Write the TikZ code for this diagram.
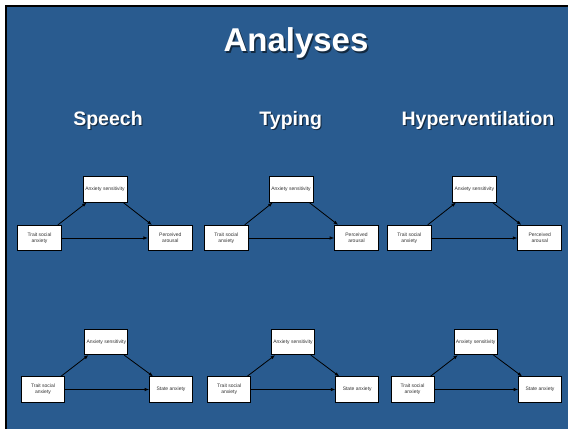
\documentclass[tikz,border=0pt]{standalone}
\usepackage{fontspec}
\setmainfont{Liberation Sans}
\usetikzlibrary{calc,arrows.meta}
\definecolor{slideblue}{RGB}{41,91,143}
\begin{document}
\begin{tikzpicture}[x=1pt,y=-1pt,
  box/.style={draw=black,line width=0.7pt,fill=white,minimum width=44pt,
    minimum height=25.5pt,inner sep=0pt,align=center,
    font=\fontsize{5}{6.3}\selectfont,text=black!80},
  smallbox/.style={box,minimum width=43pt},
  link/.style={-{Latex[length=4.5pt,width=3.5pt]},line width=0.8pt},
  heading/.style={text=white,font=\bfseries\fontsize{19.5}{22}\selectfont,anchor=base},
  titletext/.style={text=white,font=\bfseries\fontsize{33}{36}\selectfont,anchor=base},
  shade/.style={text=black,opacity=0.55}
]
\useasboundingbox (0,0) rectangle (568,429);
% slide background with its dark edge on the top and left
\fill[white] (0,0) rectangle (568,429);
\fill[slideblue] (7,7) rectangle (568,429);
\fill[black] (5,5) rectangle (568,7);
\fill[black] (5,5) rectangle (7,429);

% title and column headings, each with a soft drop shadow
\node[titletext,shade] (titleshadow) at (297.5,53) {Analyses};
\node[titletext] (title) at (296,51.5) {Analyses};
\foreach \n/\x/\t in {s/108/Speech, t/290.7/Typing, h/478/Hyperventilation}{
  \node[heading,shade] (hs\n) at (\x+1.2,126.2) {\t};
  \node[heading] (h\n) at (\x,125) {\t};
}

% upper row: perceived arousal models
\foreach \n/\xa/\xt/\xp in {s/105/39.5/170.3, t/291/226.3/356.5, h/474.3/409.3/539.7}{
  \node[box] (a1\n) at (\xa,189.5) {Anxiety sensitivity};
  \node[box] (t1\n) at (\xt,238) {Trait social\\anxiety};
  \node[box] (p1\n) at (\xp,238) {Perceived\\arousal};
  \draw[link] ($(t1\n.north east)+(-4,0)$) -- ($(a1\n.south west)+(4,0)$);
  \draw[link] ($(a1\n.south east)+(-4,0)$) -- ($(p1\n.north west)+(4,0)$);
  \draw[link] (t1\n.east) -- (p1\n.west);
}

% lower row: state anxiety models
\foreach \n/\xa/\xt/\xp in {s/106.3/43/171, t/293/229.2/357.2, h/475.7/412.5/540}{
  \node[smallbox] (a2\n) at (\xa,342) {Anxiety sensitivity};
  \node[smallbox] (t2\n) at (\xt,389.5) {Trait social\\anxiety};
  \node[smallbox] (p2\n) at (\xp,389.5) {State anxiety};
  \draw[link] ($(t2\n.north east)+(-4,0)$) -- ($(a2\n.south west)+(4,0)$);
  \draw[link] ($(a2\n.south east)+(-4,0)$) -- ($(p2\n.north west)+(4,0)$);
  \draw[link] (t2\n.east) -- (p2\n.west);
}
\end{tikzpicture}
\end{document}
